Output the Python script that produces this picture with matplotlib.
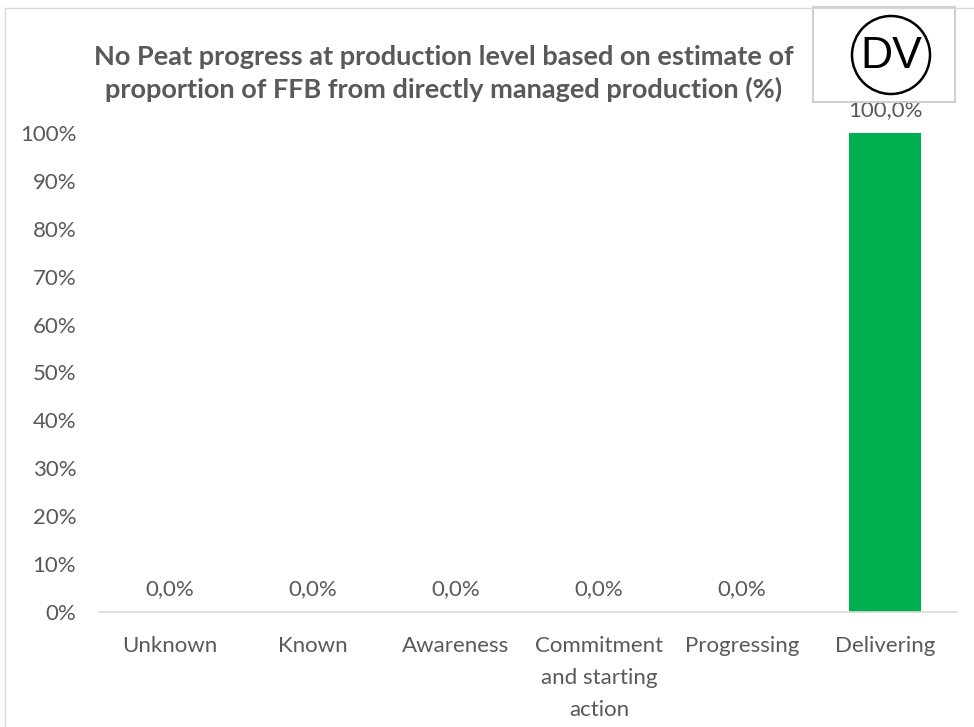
import matplotlib.pyplot as plt
from matplotlib.patches import Rectangle, Circle
from matplotlib.lines import Line2D

categories = ['Unknown', 'Known', 'Awareness', 'Commitment\nand starting\naction', 'Progressing', 'Delivering']
values = [0.0, 0.0, 0.0, 0.0, 0.0, 100.0]
yticks = [0, 10, 20, 30, 40, 50, 60, 70, 80, 90, 100]
title = 'No Peat progress at production level based on estimate of\nproportion of FFB from directly managed production (%)'

plt.rcParams['font.family'] = ['Lato', 'DejaVu Sans']
grey = '#595959'

fig = plt.figure(figsize=(9.74, 7.27), dpi=100)
W, H = 974, 727
ax = fig.add_axes([98.5 / W, 1 - 612 / H, (956.5 - 98.5) / W, (612 - 133) / H])

x = range(len(categories))
ax.bar(x, values, width=0.5, color='#00b050')
for xi, v in zip(x, values):
    ax.text(xi, v + 2.6, ('%.1f%%' % v).replace('.', ','), ha='center', va='bottom',
            fontsize=16, color=grey)

ax.set_xlim(-0.5, len(categories) - 0.5)
ax.set_ylim(0, 100)
ax.set_yticks(yticks)
ax.set_yticklabels(['%d%%' % t for t in yticks], fontsize=16, color=grey)
ax.set_xticks(list(x))
ax.set_xticklabels(categories, fontsize=16, color=grey, linespacing=1.75, va='top')
ax.tick_params(axis='both', length=0)
ax.tick_params(axis='y', pad=16)
ax.tick_params(axis='x', pad=17)
for s in ['top', 'right', 'left']:
    ax.spines[s].set_visible(False)
ax.spines['bottom'].set_color('#d9d9d9')
ax.spines['bottom'].set_linewidth(1.2)

fig.text(444 / W, 1 - 73.5 / H, title, ha='center', va='center', fontsize=19.5,
         fontweight='bold', color=grey, linespacing=1.38)

# outer chart border (left and top only visible)
fig.add_artist(Line2D([5 / W, 5 / W], [0, 1 - 8 / H], transform=fig.transFigure, color='#d9d9d9', lw=1))
fig.add_artist(Line2D([5 / W, 1], [1 - 8 / H, 1 - 8 / H], transform=fig.transFigure, color='#d9d9d9', lw=1))

# DV badge
fig.add_artist(Rectangle((813 / W, 1 - 102 / H), 142 / W, 95 / H, transform=fig.transFigure,
                         facecolor='white', edgecolor='#d0d0d0', lw=1.5))
fig.add_artist(Circle((891, H - 55), 39, transform=None, facecolor='none',
                      edgecolor='black', lw=1.8))
fig.text(891 / W, 1 - 56 / H, 'DV', ha='center', va='center', fontsize=32, color='black',
         family=['Liberation Sans', 'DejaVu Sans'])

fig.savefig('out.png', dpi=100)
